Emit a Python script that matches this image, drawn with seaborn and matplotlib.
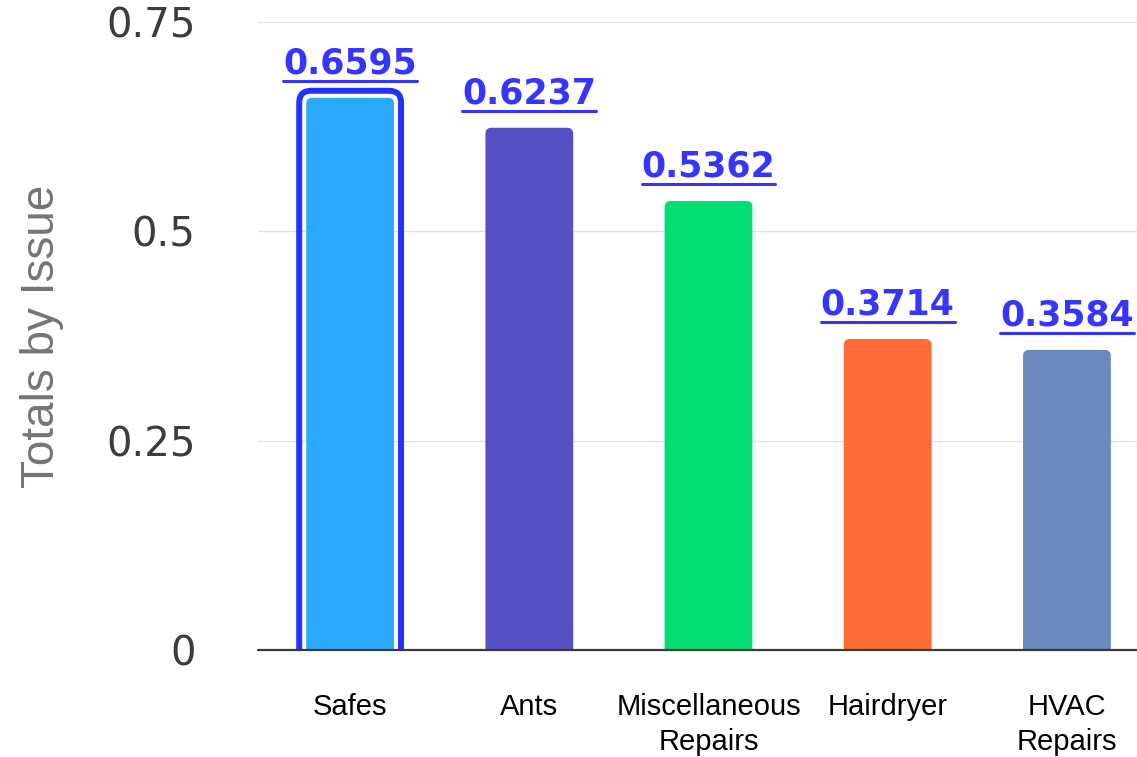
import numpy as np
import pandas as pd
import matplotlib
matplotlib.use("Agg")
import matplotlib.pyplot as plt
from matplotlib.patches import FancyBboxPatch
from matplotlib.lines import Line2D
import seaborn as sns

# data
issues = ["Safes", "Ants", "Miscellaneous\nRepairs", "Hairdryer", "HVAC\nRepairs"]
totals = [0.6595, 0.6237, 0.5362, 0.3714, 0.3584]
bar_colors = ["#2BAAFD", "#5451C5", "#02DF72", "#FF6B35", "#6A8ABD"]
y_ticks = [0, 0.25, 0.5, 0.75]
y_ticklabels = ["0", "0.25", "0.5", "0.75"]

df = pd.DataFrame({"Issue": issues, "Total": totals})

sns.set_style("white")
plt.rcParams["font.family"] = ["Liberation Sans", "DejaVu Sans"]

fig = plt.figure(figsize=(11.37, 7.57), dpi=100)
ax = fig.add_axes([258 / 1137, 107 / 757, 879 / 1137, 628 / 757])

sns.barplot(data=df, x="Issue", y="Total", hue="Issue", palette=bar_colors,
            legend=False, width=0.49, saturation=1, ax=ax)

ax.set_xlim(-0.514, 4.391)
ax.set_ylim(0, 0.75)

# pixel -> data unit scales
px_x = 1 / 179.0
px_y = 0.75 / 628.0
aspect = px_y / px_x

# swap plain rectangles for rounded-top bars
bars = list(ax.patches)
for p in bars:
    x, w, h = p.get_x(), p.get_width(), p.get_height()
    fc = p.get_facecolor()
    p.set_visible(False)
    r = 6 * px_x
    rb = FancyBboxPatch((x, -8 * px_y), w, h + 8 * px_y,
                        boxstyle=f"round,pad=0,rounding_size={r}",
                        mutation_aspect=aspect, facecolor=fc, edgecolor="none",
                        zorder=3)
    ax.add_patch(rb)

# selected-bar outline around Safes
p = bars[0]
gx, gy = 7 * px_x, 7 * px_y
sel = FancyBboxPatch((p.get_x() - gx, -20 * px_y), p.get_width() + 2 * gx,
                     p.get_height() + gy + 20 * px_y,
                     boxstyle=f"round,pad=0,rounding_size={12 * px_x}",
                     mutation_aspect=aspect, facecolor="none",
                     edgecolor="#2233FF", linewidth=4.3, zorder=4)
ax.add_patch(sel)

# grid and baseline
for t in y_ticks[1:]:
    ax.axhline(t, color="#E3E3E3", lw=1, zorder=0, clip_on=False)
ax.axhline(0, color="#3A3A3A", lw=1.6, zorder=5, clip_on=False)

sns.despine(ax=ax, left=True, bottom=True, right=True, top=True)

ax.set_yticks(y_ticks)
ax.set_yticklabels(y_ticklabels, fontsize=29, color="#3C3C3C", family="DejaVu Sans")
ax.tick_params(axis="y", length=0, pad=45)
ax.tick_params(axis="x", length=0, pad=31)
ax.set_xticks(range(len(issues)))
ax.set_xticklabels(issues, fontsize=21, color="black", linespacing=1.3)
ax.set_xlabel("")
ax.set_ylabel("Totals by Issue", fontsize=33, color="#757575")
ax.yaxis.set_label_coords(-0.2207, 0.5)

# value labels, underlined
labels = []
for i, v in enumerate(totals):
    t = ax.annotate(f"{v:.4f}", xy=(i, v), xytext=(0, 17.3), textcoords="offset points",
                    ha="center", va="baseline", fontsize=25, fontweight="bold",
                    color="#3535FF", family="DejaVu Sans", zorder=6)
    labels.append(t)

fig.canvas.draw()
inv = fig.transFigure.inverted()
for i, t in enumerate(labels):
    bb = t.get_window_extent()
    base_y = ax.transData.transform((i, totals[i]))[1] + 24
    uy = base_y - 7
    (x0, y0) = inv.transform((bb.x0, uy))
    (x1, _) = inv.transform((bb.x1, uy))
    fig.add_artist(Line2D([x0, x1], [y0, y0], transform=fig.transFigure,
                          color="#3535FF", lw=2.2))

fig.savefig("out.png", dpi=100)
